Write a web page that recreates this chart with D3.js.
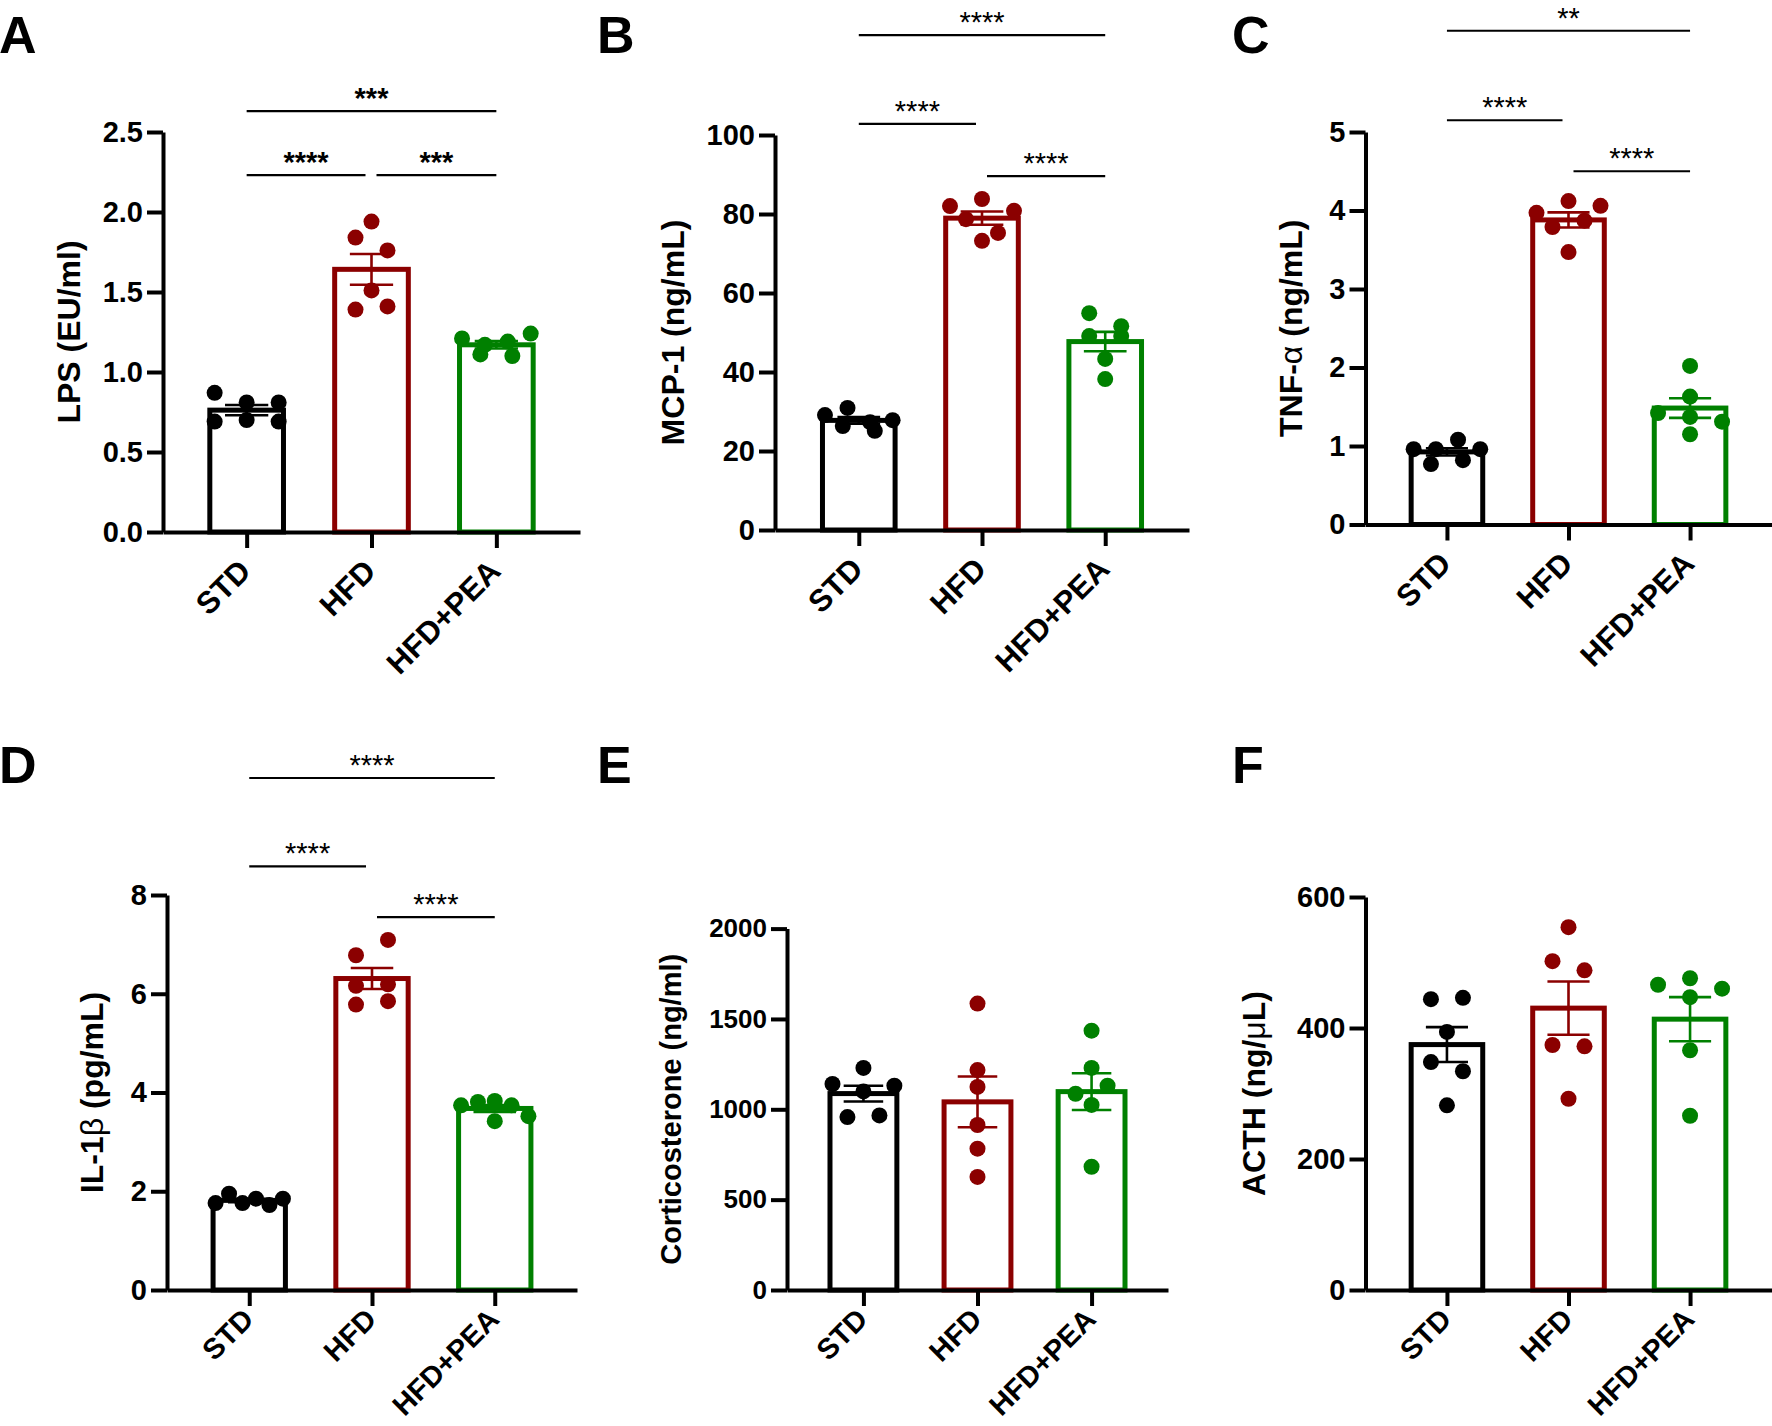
<!DOCTYPE html>
<html><head><meta charset="utf-8">
<script src="https://cdn.jsdelivr.net/npm/d3@7"></script>
<style>body{margin:0;background:#fff} svg{display:block}</style>
</head><body>
<svg id="chart" width="1772" height="1426"></svg>
<script>
// ---------- DATA ----------
const groups = ["STD", "HFD", "HFD+PEA"];
const groupColors = ["#000000", "#8b0000", "#008000"];

// A: LPS (EU/ml)
const lpsSTD = [0.87, 0.81, 0.81, 0.69, 0.70, 0.69];
const lpsHFD = [1.84, 1.94, 1.76, 1.51, 1.39, 1.41];
const lpsPEA = [1.11, 1.21, 1.17, 1.19, 1.24, 1.10];
const lpsTicks = [0, 0.5, 1.0, 1.5, 2.0, 2.5];
const lpsSig = [
  {from: "STD", to: "HFD+PEA", label: "***", y: 2.63},
  {from: "STD", to: "HFD", label: "****", y: 2.23},
  {from: "HFD", to: "HFD+PEA", label: "***", y: 2.23}
];

// B: MCP-1 (ng/mL)
const mcpSTD = [26.3, 29.1, 30.9, 27.3, 27.8, 25.1];
const mcpHFD = [82.0, 83.8, 80.8, 78.7, 73.2, 75.2];
const mcpPEA = [54.9, 51.6, 49.1, 49.1, 43.3, 38.2];
const mcpTicks = [0, 20, 40, 60, 80, 100];
const mcpSig = [
  {from: "STD", to: "HFD+PEA", label: "****", y: 125.3},
  {from: "STD", to: "HFD", label: "****", y: 102.8},
  {from: "HFD", to: "HFD+PEA", label: "****", y: 89.6}
];

// C: TNF-alpha (ng/mL)
const tnfSTD = [0.96, 0.96, 1.08, 0.96, 0.77, 0.82];
const tnfHFD = [3.97, 4.12, 4.06, 3.79, 3.87, 3.47];
const tnfPEA = [2.02, 1.63, 1.42, 1.37, 1.31, 1.15];
const tnfTicks = [0, 1, 2, 3, 4, 5];
const tnfSig = [
  {from: "STD", to: "HFD+PEA", label: "**", y: 6.29},
  {from: "STD", to: "HFD", label: "****", y: 5.15},
  {from: "HFD", to: "HFD+PEA", label: "****", y: 4.50}
];

// D: IL-1beta (pg/mL)
const ilSTD = [1.76, 1.95, 1.76, 1.85, 1.72, 1.85];
const ilHFD = [6.78, 7.09, 6.16, 6.19, 5.78, 5.85];
const ilPEA = [3.74, 3.81, 3.83, 3.74, 3.42, 3.52];
const ilTicks = [0, 2, 4, 6, 8];
const ilSig = [
  {from: "STD", to: "HFD+PEA", label: "****", y: 10.37},
  {from: "STD", to: "HFD", label: "****", y: 8.58},
  {from: "HFD", to: "HFD+PEA", label: "****", y: 7.55}
];

// E: Corticosterone (ng/ml)
const cortSTD = [1140, 1229, 1099, 1131, 957, 966];
const cortHFD = [1585, 1217, 1124, 913, 782, 626];
const cortPEA = [1435, 1229, 1086, 1131, 1024, 682];
const cortTicks = [0, 500, 1000, 1500, 2000];

// F: ACTH (ng/uL)
const acthSTD = [444, 446, 394, 348, 334, 282];
const acthHFD = [554, 502, 488, 374, 372, 292];
const acthPEA = [466, 476, 460, 447, 366, 266];
const acthTicks = [0, 200, 400, 600];

// ---------- LAYOUT ----------
const FONT = "'Liberation Sans', Arial, Helvetica, sans-serif";
const svg = d3.select("#chart").attr("font-family", FONT);

const panels = [
  {letter: "A", lx: -1, ly: 53, ax: 163, top: 132, bottom: 532, width: 417, pad: 0.67, domain: [0, 2.5],
   ticks: lpsTicks, fmt: d3.format(".1f"), tickSize: 29, labelX: -83, labelSize: 32, catSize: 31, catDY: 41,
   label: [["LPS (EU/ml)", true]], data: [lpsSTD, lpsHFD, lpsPEA], sig: lpsSig, starWeight: "bold"},
  {letter: "B", lx: 597, ly: 53, ax: 775, top: 135, bottom: 530, width: 414, pad: 0.68, domain: [0, 100],
   ticks: mcpTicks, fmt: d3.format("d"), tickSize: 29, labelX: -91, labelSize: 32, catSize: 31, catDY: 41,
   label: [["MCP-1 (ng/mL)", true]], data: [mcpSTD, mcpHFD, mcpPEA], sig: mcpSig, starWeight: "normal"},
  {letter: "C", lx: 1232, ly: 53, ax: 1365.5, top: 132, bottom: 524.5, width: 406, pad: 0.67, domain: [0, 5],
   ticks: tnfTicks, fmt: d3.format("d"), tickSize: 29, labelX: -63.5, labelSize: 32, catSize: 31, catDY: 41,
   label: [["TNF-", true], ["\u03B1", false], [" (ng/mL)", true]], data: [tnfSTD, tnfHFD, tnfPEA], sig: tnfSig, starWeight: "normal"},
  {letter: "D", lx: -1, ly: 783, ax: 167, top: 895, bottom: 1290, width: 410, pad: 0.67, domain: [0, 8],
   ticks: ilTicks, fmt: d3.format("d"), tickSize: 29, labelX: -64, labelSize: 32, catSize: 29, catDY: 31,
   label: [["IL-1", true], ["\u03B2", false], [" (pg/mL)", true]], data: [ilSTD, ilHFD, ilPEA], sig: ilSig, starWeight: "normal"},
  {letter: "E", lx: 597, ly: 783, ax: 787, top: 928.6, bottom: 1290, width: 381, pad: 0.67, domain: [0, 2000],
   ticks: cortTicks, fmt: d3.format("d"), tickSize: 26, labelX: -106, labelSize: 29, catSize: 29, catDY: 31,
   label: [["Corticosterone (ng/ml)", true]], data: [cortSTD, cortHFD, cortPEA], sig: [], starWeight: "normal"},
  {letter: "F", lx: 1232, ly: 783, ax: 1365.5, top: 897, bottom: 1290, width: 406, pad: 0.67, domain: [0, 600],
   ticks: acthTicks, fmt: d3.format("d"), tickSize: 29, labelX: -100.5, labelSize: 32, catSize: 29, catDY: 31,
   label: [["ACTH (ng/", true], ["\u03BC", false], ["L)", true]], data: [acthSTD, acthHFD, acthPEA], sig: [], starWeight: "normal"}
];

const R = 8;             // point radius
const BAR_STROKE = 5;

// deterministic row-based scatter layout (points with close values share a row)
function swarm(vals, yScale, d, W) {
  const order = vals.map((v, i) => i).sort((a, b) => vals[b] - vals[a] || a - b);
  const rows = [];
  let cur = null;
  order.forEach(i => {
    const py = yScale(vals[i]);
    if (cur && py - cur.y0 < d) cur.items.push(i);
    else { cur = {y0: py, items: [i]}; rows.push(cur); }
  });
  const off = new Array(vals.length).fill(0);
  rows.forEach(r => {
    const items = r.items.slice().sort((a, b) => a - b);
    const n = items.length;
    if (n > 1) {
      const s = Math.min(2 * d, W / (n - 1));
      items.forEach((i, k) => { off[i] = (k - (n - 1) / 2) * s; });
    }
  });
  return off;
}

function drawPanel(p) {
  const g = svg.append("g");
  const y = d3.scaleLinear().domain(p.domain).range([p.bottom, p.top]);
  const x = d3.scalePoint().domain(groups).range([p.ax, p.ax + p.width]).padding(p.pad);
  const step = x.step();
  const barOuter = step * 0.63;

  const stats = p.data.map((vals, i) => ({
    g: groups[i], c: groupColors[i], vals,
    m: d3.mean(vals), sem: d3.deviation(vals) / Math.sqrt(vals.length)
  }));

  // bars
  g.selectAll("rect.bar").data(stats).join("rect").attr("class", "bar")
    .attr("x", d => x(d.g) - (barOuter - BAR_STROKE) / 2)
    .attr("y", d => y(d.m))
    .attr("width", barOuter - BAR_STROKE)
    .attr("height", d => y(0) - y(d.m))
    .attr("fill", "#fff").attr("stroke", d => d.c).attr("stroke-width", BAR_STROKE);

  // points
  stats.forEach(s => {
    const off = swarm(s.vals, y, 2 * R, barOuter - 10);
    g.append("g").selectAll("circle").data(s.vals).join("circle")
      .attr("cx", (v, i) => x(s.g) + off[i])
      .attr("cy", v => y(v))
      .attr("r", R).attr("fill", s.c);
  });

  // error bars (mean +/- SEM)
  const cap = barOuter * 0.55;
  stats.forEach(s => {
    const eg = g.append("g").attr("stroke", s.c).attr("stroke-width", 2.6);
    eg.append("line").attr("x1", x(s.g)).attr("x2", x(s.g)).attr("y1", y(s.m - s.sem)).attr("y2", y(s.m + s.sem));
    [s.m - s.sem, s.m + s.sem].forEach(v => {
      eg.append("line").attr("x1", x(s.g) - cap / 2).attr("x2", x(s.g) + cap / 2).attr("y1", y(v)).attr("y2", y(v));
    });
  });

  // axes
  const ya = g.append("g").attr("transform", `translate(${p.ax},0)`)
    .call(d3.axisLeft(y).tickValues(p.ticks).tickFormat(p.fmt).tickSize(16).tickSizeOuter(0).tickPadding(4));
  ya.attr("font-size", p.tickSize).attr("font-family", FONT).attr("font-weight", "bold");
  ya.select(".domain").attr("stroke-width", 4).attr("stroke", "#000");
  ya.selectAll(".tick line").attr("stroke-width", 4).attr("stroke", "#000");
  ya.selectAll(".tick text").attr("fill", "#000");

  const xa = g.append("g").attr("transform", `translate(0,${p.bottom})`)
    .call(d3.axisBottom(x).tickSize(16).tickSizeOuter(0).tickFormat(""));
  xa.select(".domain").attr("stroke-width", 4).attr("stroke", "#000");
  xa.selectAll(".tick line").attr("stroke-width", 4).attr("stroke", "#000");

  // category labels
  g.selectAll("text.cat").data(groups).join("text").attr("class", "cat")
    .attr("transform", d => `translate(${x(d) + 6},${p.bottom + p.catDY}) rotate(-45)`)
    .attr("text-anchor", "end").attr("font-size", p.catSize).attr("font-weight", "bold")
    .text(d => d);

  // y label
  const yl = g.append("text")
    .attr("transform", `translate(${p.ax + p.labelX},${(p.top + p.bottom) / 2}) rotate(-90)`)
    .attr("text-anchor", "middle").attr("font-size", p.labelSize);
  p.label.forEach(([t, b]) => {
    yl.append("tspan").attr("font-weight", b ? "bold" : "normal").text(t);
  });

  // significance brackets
  p.sig.forEach(s => {
    const x1 = x(s.from) + (s.from === "HFD" ? 5 : 0);
    const x2 = x(s.to) - (s.to === "HFD" ? 6 : 0);
    const yy = y(s.y);
    g.append("line").attr("x1", x1).attr("x2", x2).attr("y1", yy).attr("y2", yy)
      .attr("stroke", "#000").attr("stroke-width", 2.2);
    g.append("text").attr("x", (x1 + x2) / 2).attr("y", yy - 3)
      .attr("text-anchor", "middle").attr("font-size", 29).attr("font-weight", p.starWeight)
      .text(s.label);
  });

  // panel letter
  g.append("text").attr("x", p.lx).attr("y", p.ly).attr("font-size", 52).attr("font-weight", "bold").text(p.letter);
}

panels.forEach(drawPanel);
</script>
</body></html>
